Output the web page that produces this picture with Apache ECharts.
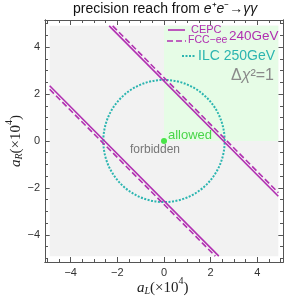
<!DOCTYPE html>
<html>
<head>
  <meta charset="utf-8">
  <title>precision reach from e+e- to γγ</title>
  <style>
    html, body { margin: 0; padding: 0; background: #fff; }
    #main { width: 286px; height: 298px; }
  </style>
</head>
<body>
  <div id="main"></div>
  <script src="https://cdn.jsdelivr.net/npm/echarts@6/dist/echarts.min.js"></script>
  <script>
// plot box and allowed quadrant: [x1, y1, x2, y2]
const plotRegion = [[-4.9, -4.9, 4.9, 4.9]];
const allowedRegion = [[0, 0, 4.9, 4.9]];

// CEPC (solid) and FCC-ee (dashed) bands, aL + aR = +-c
const cepcUpper = [[-2.35, 4.9], [4.9, -2.35]];
const cepcLower = [[-4.9, 2.35], [2.35, -4.9]];
const fccUpper = [[-2.2, 4.9], [4.9, -2.2]];
const fccLower = [[-4.9, 2.2], [2.2, -4.9]];

// ILC circle: centre x, centre y, radius
const ilcCircle = [[0, 0, 2.6]];

// SM point
const smPoint = [[0, 0]];

const majorTicks = [-4, -2, 0, 2, 4];
const minorTicks = [-5, -4.5, -3.5, -3, -2.5, -1.5, -1, -0.5, 0.5, 1, 1.5, 2.5, 3, 3.5, 4.5, 5];

const purple = '#b12fb1';
const teal = '#2bb5b0';
const frameColor = '#555';

function fmt(v) {
  return v < 0 ? '\u2212' + (-v) : String(v);
}

function axis(pos, ticks, len, labels) {
  return {
    type: 'value', min: -5.1, max: 5.1, position: pos,
    axisLine: { show: true, onZero: false, lineStyle: { color: frameColor, width: 1 } },
    axisTick: { show: true, inside: true, length: len, customValues: ticks, lineStyle: { color: frameColor } },
    axisLabel: labels ? { show: true, customValues: ticks, formatter: fmt, color: '#333', fontSize: 11, fontFamily: 'Liberation Sans', margin: 5 } : { show: false },
    splitLine: { show: false }
  };
}
// y axis range is slightly different (taller box)
function yaxis(pos, ticks, len, labels) {
  const a = axis(pos, ticks, len, labels);
  a.min = -5.15; a.max = 5.15;
  return a;
}

function rectItem(color) {
  return function (params, api) {
    const p1 = api.coord([api.value(0), api.value(3)]);
    const p2 = api.coord([api.value(2), api.value(1)]);
    return { type: 'rect', shape: { x: p1[0], y: p1[1], width: p2[0] - p1[0], height: p2[1] - p1[1] }, style: { fill: color } };
  };
}

function lineSeries(data, dashed) {
  return {
    type: 'line', data: data, symbol: 'none', silent: true, z: 4,
    lineStyle: { color: purple, width: 1.6, type: dashed ? [6, 3] : 'solid' }
  };
}

const axisTitleRich = {
  a: { fontSize: 15, fontFamily: 'Liberation Serif', fontStyle: 'italic', fill: '#222', verticalAlign: 'bottom', lineHeight: 20 },
  b: { fontSize: 15, fontFamily: 'Liberation Serif', fill: '#222', verticalAlign: 'bottom', lineHeight: 20 },
  s: { fontSize: 10, fontFamily: 'Liberation Serif', fontStyle: 'italic', fill: '#222', verticalAlign: 'bottom', lineHeight: 16 },
  p: { fontSize: 10, fontFamily: 'Liberation Serif', fill: '#222', verticalAlign: 'top', lineHeight: 20 }
};

const option = {
  animation: false,
  grid: { left: 45, right: 3, top: 20, bottom: 36 },
  xAxis: [
    axis('bottom', majorTicks, 5, true),
    axis('bottom', minorTicks, 3, false),
    axis('top', majorTicks, 5, false),
    axis('top', minorTicks, 3, false)
  ],
  yAxis: [
    yaxis('left', majorTicks, 5, true),
    yaxis('left', minorTicks, 3, false),
    yaxis('right', majorTicks, 5, false),
    yaxis('right', minorTicks, 3, false)
  ],
  series: [
    { type: 'custom', data: plotRegion, renderItem: rectItem('#f2f2f2'), silent: true, z: 1 },
    { type: 'custom', data: allowedRegion, renderItem: rectItem('#e6fce6'), silent: true, z: 2 },
    {
      type: 'custom', data: ilcCircle, silent: true, z: 3,
      renderItem: function (params, api) {
        const c = api.coord([api.value(0), api.value(1)]);
        const r = api.size([api.value(2), api.value(2)]);
        return {
          type: 'ellipse',
          shape: { cx: c[0], cy: c[1], rx: r[0], ry: r[1] },
          style: { fill: 'none', stroke: teal, lineWidth: 2, lineDash: [2, 1.5] }
        };
      }
    },
    lineSeries(cepcUpper, false),
    lineSeries(cepcLower, false),
    lineSeries(fccUpper, true),
    lineSeries(fccLower, true),
    {
      type: 'scatter', data: smPoint, symbolSize: 6, z: 5, silent: true,
      itemStyle: { color: '#1ee01e' },
      label: {
        show: true, position: 'right', formatter: 'allowed', distance: 1, offset: [0, -6],
        color: '#22cc22', fontSize: 13, fontFamily: 'Liberation Sans'
      }
    }
  ],
  graphic: [
    {
      type: 'text', x: 73, y: 2,
      style: {
        text: 'precision reach from {i|e}\u207A{i|e}\u207B\u2192{i|\u03B3\u03B3}',
        fontSize: 14, fontFamily: 'Liberation Sans', fill: '#111',
        rich: { i: { fontStyle: 'italic', fontSize: 14, fontFamily: 'Liberation Sans' } }
      }
    },
    { type: 'text', x: 130, y: 144, style: { text: 'forbidden', fontSize: 12, fontFamily: 'Liberation Sans', fill: '#777' }, z: 10 },
    // legend
    { type: 'line', shape: { x1: 168, y1: 30, x2: 185, y2: 30 }, style: { stroke: purple, lineWidth: 1.6 }, z: 10 },
    { type: 'text', x: 191, y: 24, style: { text: 'CEPC', fontSize: 11, fontFamily: 'Liberation Sans', fill: purple }, z: 10 },
    { type: 'line', shape: { x1: 167, y1: 41, x2: 186, y2: 41 }, style: { stroke: purple, lineWidth: 1.6, lineDash: [6, 3] }, z: 10 },
    { type: 'text', x: 188, y: 35, style: { text: 'FCC\u2212ee', fontSize: 10.5, fontFamily: 'Liberation Sans', fill: purple }, z: 10 },
    { type: 'text', x: 229, y: 29, style: { text: '240GeV', fontSize: 13.5, fontFamily: 'Liberation Sans', fill: purple }, z: 10 },
    { type: 'line', shape: { x1: 182, y1: 56, x2: 195, y2: 56 }, style: { stroke: teal, lineWidth: 2, lineDash: [2, 1.5] }, z: 10 },
    { type: 'text', x: 198, y: 49, style: { text: 'ILC 250GeV', fontSize: 14, fontFamily: 'Liberation Sans', fill: teal }, z: 10 },
    {
      type: 'text', x: 231, y: 68,
      style: { text: '\u0394{i|\u03C7}\u00B2=1', fontSize: 16, fontFamily: 'Liberation Sans', fill: '#8a8a8a',
        rich: { i: { fontStyle: 'italic', fontSize: 16, fontFamily: 'Liberation Sans', fill: '#8a8a8a' } } },
      z: 10
    },
    // axis titles
    {
      type: 'text', left: 137, top: 276,
      style: { text: '{a|a}{s|L}{b|(\u00D710}{p|4}{b|)}', rich: axisTitleRich },
      z: 10
    },
    {
      type: 'text', x: 14, y: 141, rotation: Math.PI / 2,
      style: { text: '{a|a}{s|R}{b|(\u00D710}{p|4}{b|)}', align: 'center', verticalAlign: 'middle', rich: axisTitleRich },
      z: 10
    }
  ]
};

echarts.init(document.getElementById('main'), null, { renderer: 'canvas' }).setOption(option);
  </script>
</body>
</html>
